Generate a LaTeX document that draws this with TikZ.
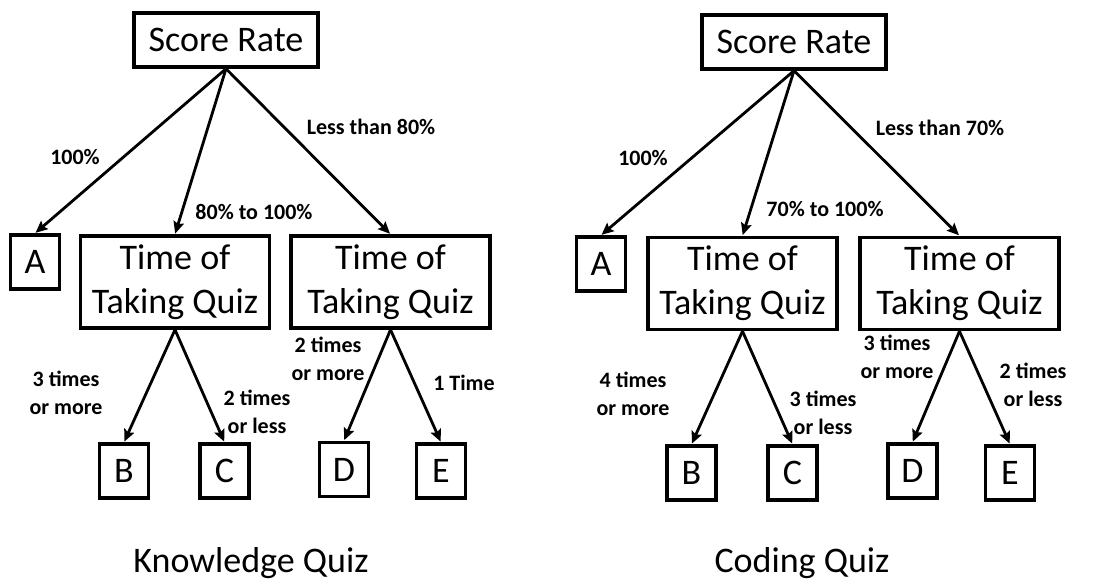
\documentclass[tikz,border=0pt]{standalone}
\usepackage{fontspec}
\setmainfont{Carlito}
\usetikzlibrary{arrows.meta}
\tikzset{
  bigtxt/.style={font=\fontsize{27}{33}\selectfont},
  box/.style={draw, line width=2.6pt, bigtxt, inner sep=0pt, align=center},
  srbox/.style={box, minimum width=138pt, minimum height=40.5pt},
  leaf/.style={box, minimum width=37pt, minimum height=40.5pt},
  tbox/.style={box, minimum width=142pt, minimum height=69pt},
  tboxw/.style={box, minimum width=149pt, minimum height=69pt},
  lbl/.style={font=\fontsize{16.5}{21}\selectfont\bfseries, align=center, inner sep=0pt},
  conn/.style={line width=2.1pt, -{Stealth[length=9pt,width=8pt,inset=1.5pt]}, shorten >=0.5pt},
  title/.style={bigtxt, inner sep=0pt}
}
\begin{document}
\begin{tikzpicture}[x=0.75pt,y=-0.75pt]
\useasboundingbox (0,0) rectangle (1097,583);
% ---------- left tree ----------
\node[srbox] (sL) at (226,40) {Score Rate};
\node[leaf] (aL) at (35,262) {A};
\node[tbox] (t1L) at (175,282) {Time of\\Taking Quiz};
\node[tboxw] (t2L) at (390.5,282) {Time of\\Taking Quiz};
\node[leaf] (bL) at (124,471) {B};
\node[leaf] (cL) at (224.5,471) {C};
\node[leaf] (dL) at (344,469.5) {D};
\node[leaf] (eL) at (441,471) {E};
\draw[conn] (sL.south) -- (aL.north);
\draw[conn] (sL.south) -- (t1L.north);
\draw[conn] (sL.south) -- (t2L.north);
\draw[conn] (t1L.south) -- (bL.north);
\draw[conn] (t1L.south) -- (cL.north);
\draw[conn] (t2L.south) -- (dL.north);
\draw[conn] (t2L.south) -- (eL.north);
\node[lbl] (l1L) at (75,157) {100\%};
\node[lbl] (l2L) at (254,212) {80\% to 100\%};
\node[lbl] (l3L) at (371,127) {Less than 80\%};
\node[lbl] (l4L) at (66,393) {3 times\\or more};
\node[lbl] (l5L) at (257,412) {2 times\\or less};
\node[lbl] (l6L) at (328,359) {2 times\\or more};
\node[lbl] (l7L) at (464,383) {1 Time};
\node[title] (kq) at (251,563) {Knowledge Quiz};
% ---------- right tree ----------
\node[srbox] (sR) at (794,42) {Score Rate};
\node[leaf] (aR) at (601,264) {A};
\node[tbox] (t1R) at (742.5,283.5) {Time of\\Taking Quiz};
\node[tboxw] (t2R) at (959.5,283.5) {Time of\\Taking Quiz};
\node[leaf] (bR) at (691.5,473) {B};
\node[leaf] (cR) at (792.5,473) {C};
\node[leaf] (dR) at (912.5,471) {D};
\node[leaf] (eR) at (1010,473) {E};
\draw[conn] (sR.south) -- (aR.north);
\draw[conn] (sR.south) -- (t1R.north);
\draw[conn] (sR.south) -- (t2R.north);
\draw[conn] (t1R.south) -- (bR.north);
\draw[conn] (t1R.south) -- (cR.north);
\draw[conn] (t2R.south) -- (dR.north);
\draw[conn] (t2R.south) -- (eR.north);
\node[lbl] (l1R) at (643,158) {100\%};
\node[lbl] (l2R) at (825,209) {70\% to 100\%};
\node[lbl] (l3R) at (940,128) {Less than 70\%};
\node[lbl] (l4R) at (633,394) {4 times\\or more};
\node[lbl] (l5R) at (823,413) {3 times\\or less};
\node[lbl] (l6R) at (897,357) {3 times\\or more};
\node[lbl] (l7R) at (1033,385) {2 times\\or less};
\node[title] (cq) at (802,563) {Coding Quiz};
\end{tikzpicture}
\end{document}
